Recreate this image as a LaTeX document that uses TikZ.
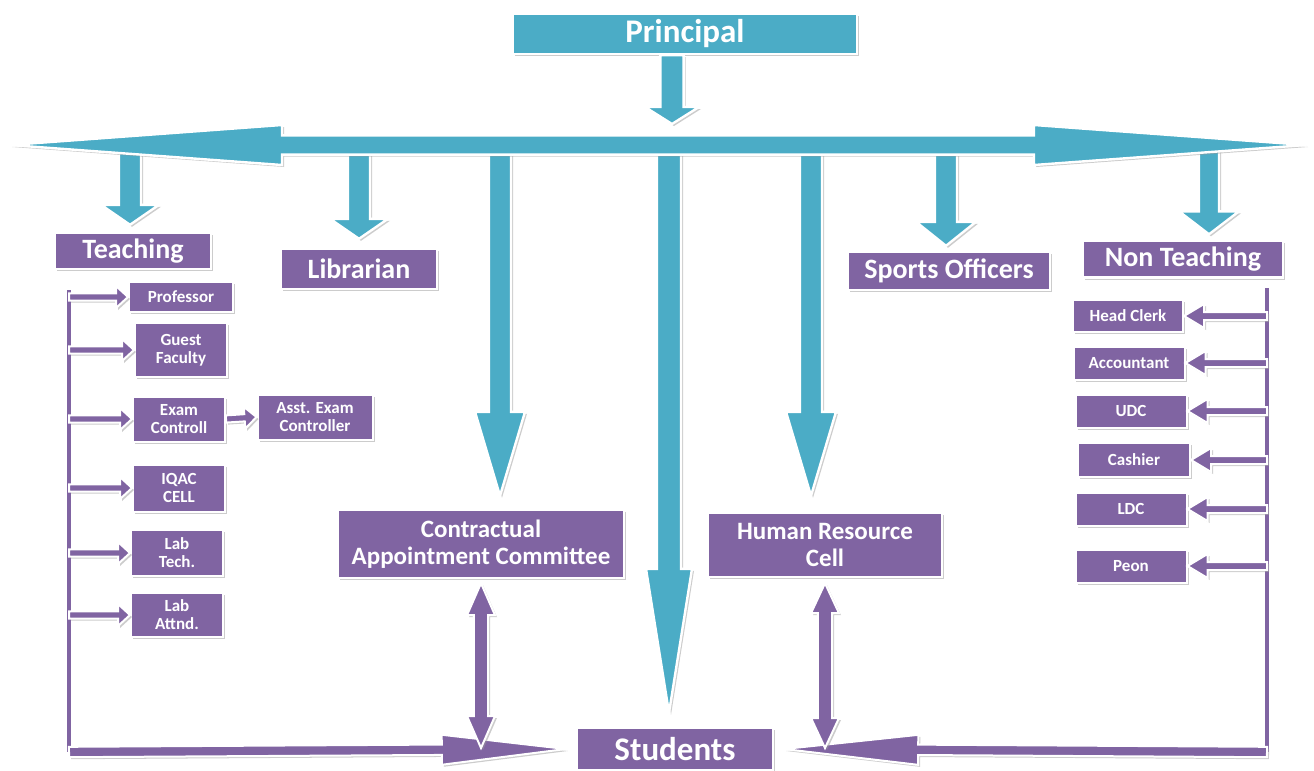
\documentclass[tikz,border=0pt]{standalone}
\usepackage{fontspec}
\setmainfont{Carlito}
\usetikzlibrary{calc,shadows}
\definecolor{aqua}{RGB}{75,172,198}
\definecolor{plum}{RGB}{128,100,162}

\begin{document}
\begin{tikzpicture}[x=0.5pt,y=-0.5pt,
   glow/.style={drop shadow={shadow xshift=1pt,shadow yshift=-1pt,fill=black!40,opacity=.5}},
   orgbox/.style={fill=plum,draw=white,line width=1.2pt,glow,text=white,align=center,inner sep=1pt},
   unitbox/.style={orgbox,font=\bfseries\fontsize{14}{16}\selectfont},
   midbox/.style={orgbox,font=\bfseries\fontsize{12.5}{13.8}\selectfont},
   leaf/.style={orgbox,line width=1pt,font=\bfseries\fontsize{8.5}{9}\selectfont},
   tealarr/.style={fill=aqua,draw=white,line width=1.2pt,glow},
   plumarr/.style={fill=plum,draw=white,line width=1pt,glow},
   barrow/.style n args={3}{to path={
      ($(\tikztostart)!#1!90:(\tikztotarget)$)
      -- ($(\tikztotarget)!#3!(\tikztostart)!#1!90:(\tikztotarget)$)
      -- ($(\tikztotarget)!#3!(\tikztostart)!#2!90:(\tikztotarget)$)
      -- (\tikztotarget)
      -- ($(\tikztotarget)!#3!(\tikztostart)!#2!-90:(\tikztotarget)$)
      -- ($(\tikztotarget)!#3!(\tikztostart)!#1!-90:(\tikztotarget)$)
      -- ($(\tikztostart)!#1!-90:(\tikztotarget)$) -- cycle}},
   dbarrow/.style n args={3}{to path={
      (\tikztostart)
      -- ($(\tikztostart)!#3!(\tikztotarget)!#2!90:(\tikztotarget)$)
      -- ($(\tikztostart)!#3!(\tikztotarget)!#1!90:(\tikztotarget)$)
      -- ($(\tikztotarget)!#3!(\tikztostart)!#1!90:(\tikztotarget)$)
      -- ($(\tikztotarget)!#3!(\tikztostart)!#2!90:(\tikztotarget)$)
      -- (\tikztotarget)
      -- ($(\tikztotarget)!#3!(\tikztostart)!#2!-90:(\tikztotarget)$)
      -- ($(\tikztotarget)!#3!(\tikztostart)!#1!-90:(\tikztotarget)$)
      -- ($(\tikztostart)!#3!(\tikztotarget)!#1!-90:(\tikztotarget)$)
      -- ($(\tikztostart)!#3!(\tikztotarget)!#2!-90:(\tikztotarget)$) -- cycle}}]
   \useasboundingbox (0,0) rectangle (1314,771);

   \node[orgbox,fill=aqua,minimum width=172pt,minimum height=20pt,
      font=\bfseries\fontsize{16.5}{18}\selectfont] (principal) at (685,34) {Principal};
   \node[unitbox,minimum width=78pt,minimum height=18pt] (teach) at (133,251) {Teaching};
   \node[unitbox,minimum width=78pt,minimum height=20pt] (lib) at (359,269) {Librarian};
   \node[unitbox,minimum width=101pt,minimum height=19pt] (sports) at (949,271) {Sports Officers};
   \node[unitbox,minimum width=100pt,minimum height=18.5pt] (nonteach) at (1183,259) {Non Teaching};
   \node[midbox,minimum width=143pt,minimum height=34pt] (contract) at (481,544)
      {Contractual\\Appointment Committee};
   \node[midbox,minimum width=117pt,minimum height=32pt] (hr) at (825,545) {Human Resource\\Cell};
   \node[orgbox,minimum width=98pt,minimum height=21pt,
      font=\bfseries\fontsize{16.5}{18}\selectfont] (students) at (675,749) {Students};

   \node[leaf,minimum width=52pt,minimum height=15pt] (prof) at (181,297) {Professor};
   \node[leaf,minimum width=46pt,minimum height=27pt] (guest) at (181,350) {Guest\\Faculty};
   \node[leaf,minimum width=46pt,minimum height=22.5pt] (exam) at (179,419) {Exam\\Controll};
   \node[leaf,minimum width=57.5pt,minimum height=22.5pt] (asst) at (315,417) {Asst. Exam\\Controller};
   \node[leaf,minimum width=46pt,minimum height=23.5pt] (iqac) at (179,488) {IQAC\\CELL};
   \node[leaf,minimum width=46pt,minimum height=23pt] (labtech) at (177,553) {Lab\\Tech.};
   \node[leaf,minimum width=46pt,minimum height=22pt] (labatt) at (177,615) {Lab\\Attnd.};

   \node[leaf,minimum width=55pt,minimum height=16pt] (clerk) at (1128,316) {Head Clerk};
   \node[leaf,minimum width=55.5pt,minimum height=16.5pt] (acct) at (1129,363) {Accountant};
   \node[leaf,minimum width=55.5pt,minimum height=16.5pt] (udc) at (1131,411) {UDC};
   \node[leaf,minimum width=56pt,minimum height=17pt] (cashier) at (1134,460) {Cashier};
   \node[leaf,minimum width=55.5pt,minimum height=16.5pt] (ldc) at (1131,509) {LDC};
   \node[leaf,minimum width=55.5pt,minimum height=16.5pt] (peon) at (1131,566) {Peon};

   \coordinate (pTip) at (672,124);
   \draw[tealarr,barrow={5.8pt}{13.5pt}{8.5pt}] (principal.south -| pTip) to (pTip);

   \coordinate (uTeach) at (130,150);
   \coordinate (uLib) at (359,150);
   \coordinate (uCon) at (500,150);
   \coordinate (uMid) at (669,150);
   \coordinate (uHr) at (811,150);
   \coordinate (uSport) at (946,150);
   \coordinate (uNon) at (1209,150);
   \coordinate[yshift=3.5pt] (tTeach) at (uTeach |- teach.north);
   \coordinate[yshift=4.5pt] (tLib) at (uLib |- lib.north);
   \coordinate[yshift=6.5pt] (tCon) at (uCon |- contract.north);
   \coordinate[yshift=7pt] (tMid) at (uMid |- students.north);
   \coordinate[yshift=8pt] (tHr) at (uHr |- hr.north);
   \coordinate[yshift=2.5pt] (tSport) at (uSport |- sports.north);
   \coordinate[yshift=2.5pt] (tNon) at (uNon |- nonteach.north);
   \draw[tealarr,barrow={5.5pt}{14.5pt}{10pt}] (uTeach) to (tTeach);
   \draw[tealarr,barrow={5.5pt}{14.5pt}{10pt}] (uLib) to (tLib);
   \draw[tealarr,barrow={5.5pt}{12.5pt}{42pt}] (uCon) to (tCon);
   \draw[tealarr,barrow={6pt}{11.5pt}{72pt}] (uMid) to (tMid);
   \draw[tealarr,barrow={5.5pt}{12.5pt}{42pt}] (uHr) to (tHr);
   \draw[tealarr,barrow={5.5pt}{15pt}{12pt}] (uSport) to (tSport);
   \draw[tealarr,barrow={5pt}{15pt}{11.5pt}] (uNon) to (tNon);

   \coordinate (barL) at (10,145);
   \coordinate (barR) at (1306,145);
   \draw[tealarr,dbarrow={4.8pt}{10pt}{136pt}] (barL) to (barR);

   \coordinate (lTop) at (69,290);
   \coordinate (lBot) at (69,752);
   \coordinate (rTop) at (1267,288);
   \coordinate (rBot) at (1267,752);
   \draw[plum,line width=2pt] (lTop) -- (lBot);
   \draw[plum,line width=2pt] (rTop) -- (rBot);
   \foreach \n in {prof,guest,exam,iqac,labtech,labatt}
      \draw[plumarr,barrow={1.8pt}{5.5pt}{6pt}] (lTop |- \n.west) to (\n.west);
   \draw[plumarr,barrow={1.8pt}{5.5pt}{6pt}] (exam.east) to (asst.west);
   \foreach \n in {clerk,acct,udc,cashier,ldc,peon}
      \draw[plumarr,barrow={2pt}{6pt}{10pt}] (rTop |- \n.east) to (\n.east);

   \coordinate[xshift=-5pt] (sL) at (students.west);
   \coordinate[xshift=5pt] (sR) at (students.east);
   \draw[plumarr,barrow={2.6pt}{7.5pt}{62pt}] (lBot) to (sL);
   \draw[plumarr,barrow={2.6pt}{7.5pt}{67pt}] (rBot) to (sR);

   \coordinate[yshift=-2pt] (cTop) at (contract.south);
   \coordinate[yshift=-2.5pt] (hTop) at (hr.south);
   \draw[plumarr,dbarrow={3.6pt}{7pt}{16pt}] (cTop) to ([yshift=2pt]cTop |- lBot);
   \draw[plumarr,dbarrow={3.6pt}{7pt}{15pt}] (hTop) to ([yshift=2pt]hTop |- rBot);
\end{tikzpicture}
\end{document}
